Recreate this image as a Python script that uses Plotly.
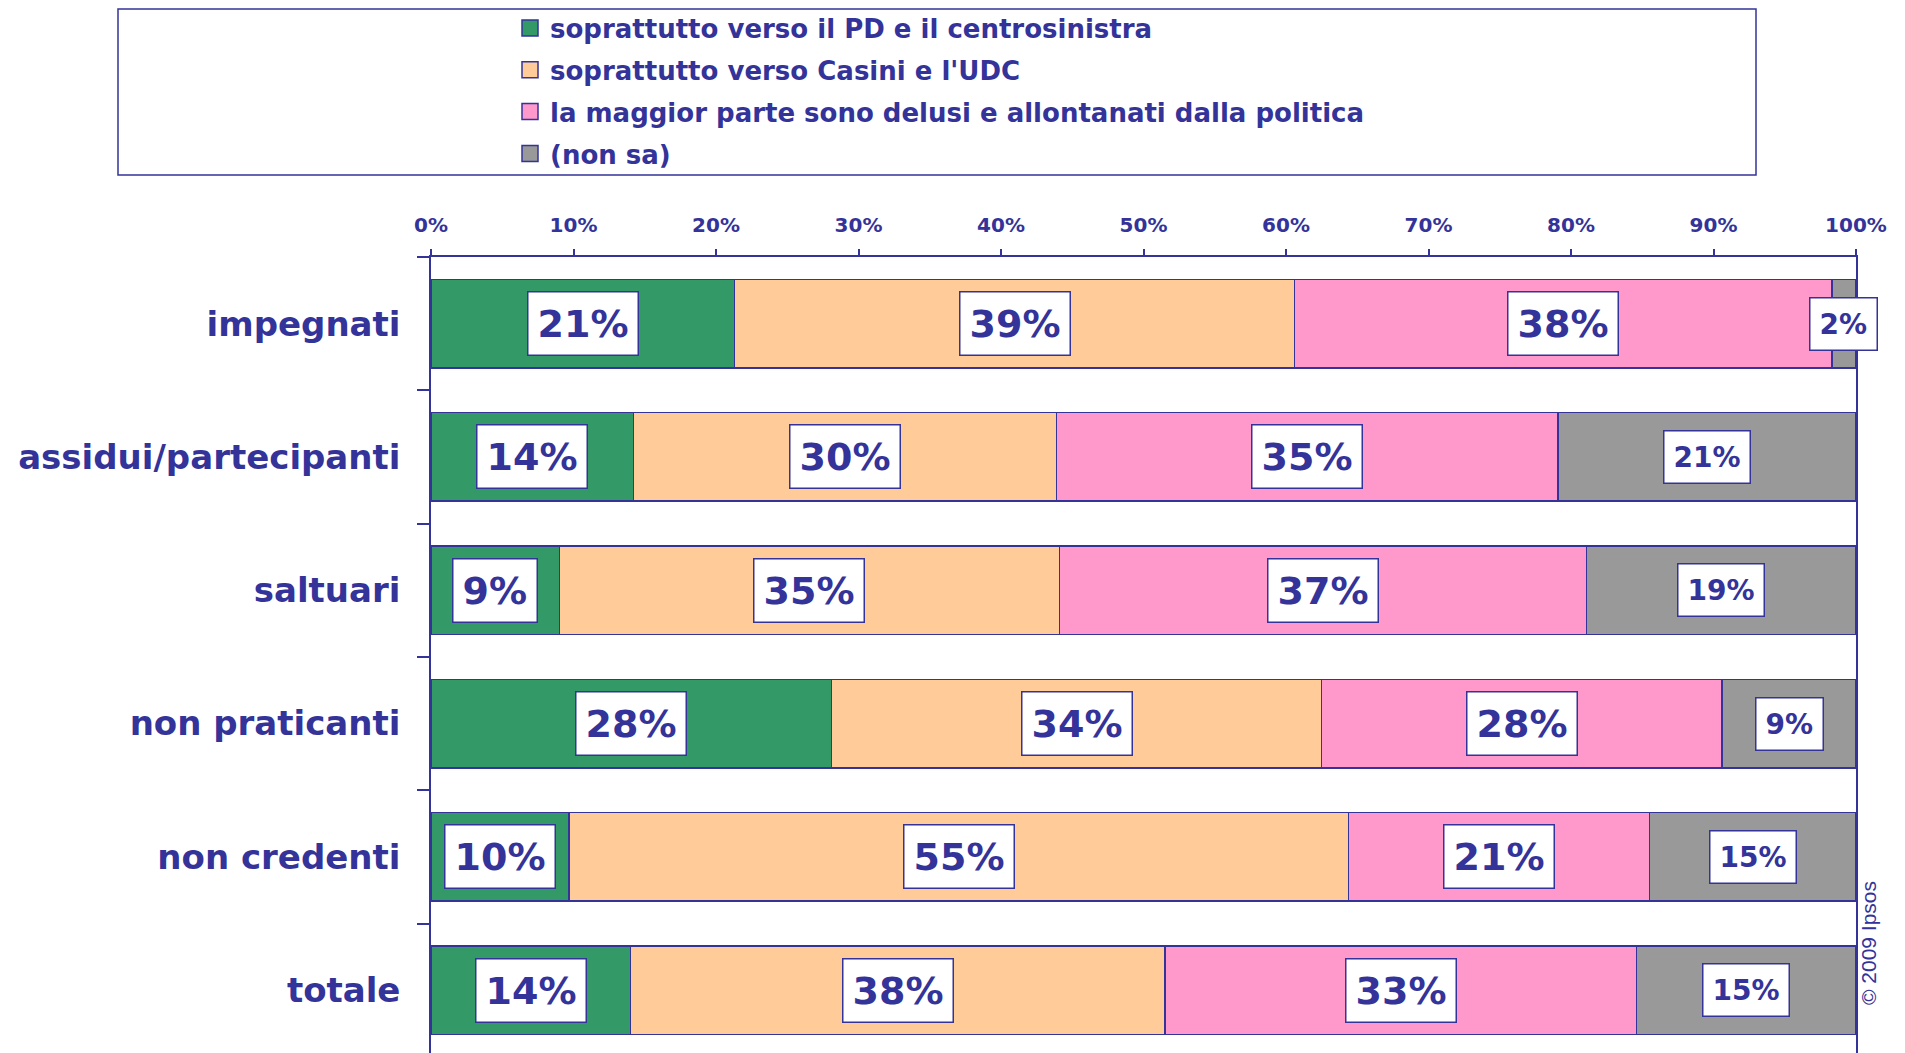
import plotly.graph_objects as go

# ---------------- data ----------------
categories = ["impegnati", "assidui/partecipanti", "saltuari",
              "non praticanti", "non credenti", "totale"]
series_names = ["soprattutto verso il PD e il centrosinistra",
                "soprattutto verso Casini e l'UDC",
                "la maggior parte sono delusi e allontanati dalla politica",
                "(non sa)"]
pd_centrosinistra = [21.3, 14.2, 9.0, 28.1, 9.7, 14.0]
casini_udc = [39.3, 29.7, 35.1, 34.4, 54.7, 37.5]
delusi = [37.7, 35.2, 37.0, 28.1, 21.1, 33.1]
non_sa = [1.7, 20.9, 18.9, 9.4, 14.5, 15.4]

labels_pd = ["21%", "14%", "9%", "28%", "10%", "14%"]
labels_casini = ["39%", "30%", "35%", "34%", "55%", "38%"]
labels_delusi = ["38%", "35%", "37%", "28%", "21%", "33%"]
labels_non_sa = ["2%", "21%", "19%", "9%", "15%", "15%"]

x_tick_values = [0, 10, 20, 30, 40, 50, 60, 70, 80, 90, 100]
x_tick_labels = ["0%", "10%", "20%", "30%", "40%", "50%", "60%",
                 "70%", "80%", "90%", "100%"]
copyright_text = "© 2009 Ipsos"

# ---------------- style ----------------
NAVY = "#333399"
colors = ["#339966", "#FFCC99", "#FF99CC", "#999999"]
FONT = "DejaVu Sans"

OFF_X, OFF_Y = 8, 8  # page offset of the figure in the browser
W_FIG, H_FIG = 1905 - OFF_X, 1045
PL, PR, PT, PB = 423, 1848, 249, H_FIG
PW, PH = PR - PL, PB - PT
SLOT = 133.3  # px per category


def px_x(screen_x):
    return (screen_x - OFF_X - PL) / PW


def px_y(screen_y):
    return (PB - (screen_y - OFF_Y)) / PH


series_values = [pd_centrosinistra, casini_udc, delusi, non_sa]
series_labels = [labels_pd, labels_casini, labels_delusi, labels_non_sa]
label_sizes = [38, 38, 38, 28]

fig = go.Figure()
for name, vals, col in zip(series_names, series_values, colors):
    fig.add_trace(go.Bar(
        y=categories, x=vals, orientation="h", name=name,
        marker=dict(color=col, line=dict(color=NAVY, width=1.5)),
        showlegend=False, hoverinfo="x+y+name",
    ))

# legend entries (square swatches)
for i, (name, col) in enumerate(zip(series_names, colors)):
    fig.add_trace(go.Scatter(
        x=[None], y=[None], mode="markers", name=name,
        legendgroup=f"g{i}",
        marker=dict(symbol="square", size=16, color=col,
                    line=dict(color=NAVY, width=1.5)),
        showlegend=True,
    ))

# value labels in white boxes
annotations = []
cum = [0.0] * len(categories)
for vals, labs, size in zip(series_values, series_labels, label_sizes):
    for j, cat in enumerate(categories):
        mid = cum[j] + vals[j] / 2
        annotations.append(dict(
            x=mid, y=cat, xref="x", yref="y", text=labs[j], showarrow=False,
            font=dict(family=FONT, size=size, color=NAVY, weight="bold"),
            bgcolor="white", bordercolor=NAVY, borderwidth=1.5, borderpad=9,
        ))
        cum[j] += vals[j]

annotations.append(dict(
    x=px_x(1868), y=px_y(943), xref="paper", yref="paper",
    xanchor="center", yanchor="middle",
    text=copyright_text, showarrow=False, textangle=-90,
    font=dict(family="Liberation Sans", size=21, color=NAVY),
))

fig.update_layout(
    width=W_FIG, height=H_FIG,
    margin=dict(l=PL, r=W_FIG - PR, t=PT, b=H_FIG - PB, pad=0,
                autoexpand=False),
    paper_bgcolor="white", plot_bgcolor="white",
    barmode="stack", bargap=0.336,
    annotations=annotations,
    shapes=[dict(type="rect", xref="paper", yref="paper",
                 x0=px_x(118), x1=px_x(1756),
                 y0=px_y(175), y1=(PB - 1.0) / PH,
                 line=dict(color=NAVY, width=1.5), fillcolor="rgba(0,0,0,0)",
                 layer="above")],
    legend=dict(
        x=px_x(510), y=(PB + 3.4) / PH, xanchor="left", yanchor="top",
        traceorder="grouped", tracegroupgap=5,
        font=dict(family=FONT, size=26, color=NAVY, weight="bold"),
        bgcolor="rgba(0,0,0,0)", borderwidth=0,
    ),
    showlegend=True,
    xaxis=dict(
        side="top", range=[0, 100], tickvals=x_tick_values,
        ticktext=x_tick_labels, showgrid=False, zeroline=False,
        showline=True, linecolor=NAVY, linewidth=1.5,
        ticks="outside", ticklen=6, tickcolor=NAVY, tickwidth=1.5,
        tickfont=dict(family=FONT, size=20, color=NAVY, weight="bold"),
        ticklabelstandoff=9, fixedrange=True,
    ),
    yaxis=dict(
        type="category", categoryorder="array", categoryarray=categories,
        range=[-0.5 + PH / SLOT, -0.5], showgrid=False, zeroline=False,
        showline=True, mirror=True, linecolor=NAVY, linewidth=1.5,
        ticks="outside", tickson="boundaries", ticklen=12,
        tickcolor=NAVY, tickwidth=1.5,
        tickfont=dict(family=FONT, size=34, color=NAVY, weight="bold"),
        ticklabelstandoff=22, fixedrange=True,
    ),
)

fig.write_html("out.html")
